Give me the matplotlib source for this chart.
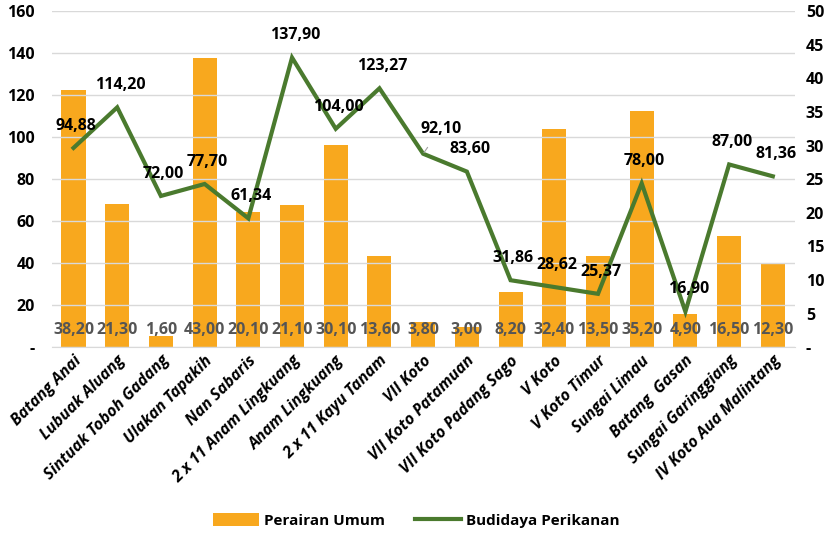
import matplotlib
matplotlib.use("Agg")
import matplotlib.pyplot as plt
from matplotlib.patches import Patch
from matplotlib.lines import Line2D
import numpy as np

categories = ["Batang Anai", "Lubuak Aluang", "Sintuak Toboh Gadang", "Ulakan Tapakih",
              "Nan Sabaris", "2 x 11 Anam Lingkuang", "Anam Lingkuang", "2 x 11 Kayu Tanam",
              "VII Koto", "VII Koto Patamuan", "VII Koto Padang Sago", "V Koto",
              "V Koto Timur", "Sungai Limau", "Batang  Gasan", "Sungai Garinggiang",
              "IV Koto Aua Malintang"]
perairan_umum = [38.20, 21.30, 1.60, 43.00, 20.10, 21.10, 30.10, 13.60, 3.80, 3.00,
                 8.20, 32.40, 13.50, 35.20, 4.90, 16.50, 12.30]
budidaya = [94.88, 114.20, 72.00, 77.70, 61.34, 137.90, 104.00, 123.27, 92.10, 83.60,
            31.86, 28.62, 25.37, 78.00, 16.90, 87.00, 81.36]
left_ticks = [0, 20, 40, 60, 80, 100, 120, 140, 160]
right_ticks = [0, 5, 10, 15, 20, 25, 30, 35, 40, 45, 50]

def fmt(v):
    return f"{v:.2f}".replace(".", ",")

FONT = "Open Sans"
plt.rcParams['font.family'] = [FONT, 'DejaVu Sans']

fig = plt.figure(figsize=(8.33, 5.34), dpi=100)
ax = fig.add_axes([0.062, 0.35, 0.892, 0.629])
ax2 = ax.twinx()

x = np.arange(len(categories))
bar_color = "#F8A81E"
line_color = "#4A7A2E"

# bars on right axis
ax2.bar(x, perairan_umum, width=0.55, color=bar_color, zorder=2)
ax2.set_ylim(0, 50)
ax2.set_yticks(right_ticks)
ax2.set_yticklabels(["-" if t == 0 else str(t) for t in right_ticks],
                    fontsize=11.5, fontweight="bold")
for xi, v in zip(x, perairan_umum):
    ax2.text(xi, 2.6, fmt(v), ha="center", va="center", fontsize=11.5,
             fontweight="bold", color="#555555", zorder=5)

ax.set_zorder(ax2.get_zorder() + 1)
ax.patch.set_visible(False)
ax.plot(x, budidaya, color=line_color, lw=3.0, zorder=4, solid_joinstyle="miter")
ax.set_ylim(0, 160)
ax.set_yticks(left_ticks)
ax.set_yticklabels(["-" if t == 0 else str(t) for t in left_ticks],
                   fontsize=11.5, fontweight="bold")
ax.yaxis.grid(True, color="#D9D9D9", lw=1.0)
ax.set_axisbelow(True)
ax2.set_axisbelow(True)

for i, (xi, v) in enumerate(zip(x, budidaya)):
    if categories[i] == "VII Koto":
        ax.annotate(fmt(v), xy=(xi, v), xytext=(xi + 0.4, v + 12), ha="center",
                    va="center", fontsize=11.5, fontweight="bold", color="black",
                    arrowprops=dict(arrowstyle="-", color="#A0A0A0", lw=0.8,
                                    shrinkA=7, shrinkB=1), zorder=6)
    else:
        ax.annotate(fmt(v), xy=(xi, v), xytext=(2, 16), textcoords="offset points",
                    ha="center", va="center", fontsize=11.5, fontweight="bold",
                    color="black", zorder=6)

ax.set_xlim(-0.5, len(categories) - 0.5)
ax.set_xticks(x)
ax.set_xticklabels(categories, rotation=45, ha="right", rotation_mode="anchor",
                   fontsize=11.5, fontweight="bold", fontstyle="italic")

for a in (ax, ax2):
    for s in a.spines.values():
        s.set_visible(False)
    a.tick_params(length=0)
ax.spines["bottom"].set_visible(True)
ax.spines["bottom"].set_color("#D9D9D9")
ax.tick_params(axis="y", pad=12)
ax2.tick_params(axis="y", pad=8)
ax.tick_params(axis="x", pad=4)

handles = [Patch(facecolor=bar_color, label="Perairan Umum"),
           Line2D([0], [0], color=line_color, lw=3.0, label="Budidaya Perikanan")]
leg = fig.legend(handles=handles, loc="center", bbox_to_anchor=(0.5, 0.025), ncol=2,
                 frameon=False, prop={"weight": "bold", "size": 11},
                 handlelength=3.0, handleheight=0.9, columnspacing=2.0, handletextpad=0.3)

fig.savefig("out.png", dpi=100)
